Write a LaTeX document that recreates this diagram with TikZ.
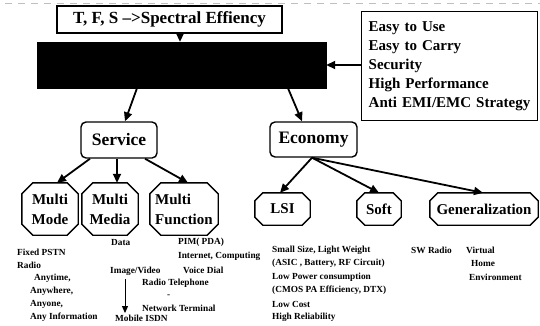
\documentclass[tikz,border=0pt]{standalone}
\usepackage{fontspec}
\setmainfont{Liberation Serif}
\usetikzlibrary{arrows.meta}
\begin{document}
\begin{tikzpicture}[x=1pt,y=-1pt,
  box/.style={draw, line width=1.4pt, inner sep=0pt},
  rbox/.style={draw, line width=1.4pt, rounded corners=5pt, inner sep=0pt, font=\fontsize{17.5}{20}\selectfont\bfseries},
  oct/.style={inner sep=0pt, align=center, font=\fontsize{15}{20}\selectfont\bfseries},
  arr/.style={line width=1.8pt, -{Triangle[length=9pt,width=8pt]}},
  thinarr/.style={line width=1pt, -{Triangle[length=7pt,width=6pt]}},
  lst/.style={anchor=west, inner sep=0pt, font=\fontsize{9.3}{10}\selectfont\bfseries},
]
\useasboundingbox (0,0) rectangle (540,325);
\draw[gray!50, line width=0.6pt, dash pattern=on 7pt off 6pt] (5,3) -- (540,3);

% top
\node[box, minimum width=225pt, minimum height=27pt, font=\fontsize{17}{20}\selectfont\bfseries] (title) at (169.5,19.5) {T, F, S -->Spectral Effiency};
\node[fill=black, draw=black, minimum width=289pt, minimum height=46pt, inner sep=0pt] (bar) at (181.5,65) {};
\node[box, anchor=north west, minimum height=109pt, text width=162pt, inner xsep=7pt, align=left,
      font=\fontsize{15}{19}\selectfont\bfseries] (req) at (361,11)
  {Easy to Use\\Easy to Carry\\Security\\High Performance\\Anti EMI/EMC Strategy};

% second level
\node[rbox, minimum width=76pt, minimum height=36pt] (svc) at (119,140) {Service};
\node[rbox, minimum width=87pt, minimum height=35pt] (eco) at (313.5,139.5) {Economy};

% third level
\node[oct, minimum width=56pt, minimum height=52pt] (mm) at (50,209) {Multi\\Mode};
\node[oct, minimum width=56pt, minimum height=52pt] (md) at (110,209) {Multi\\Media};
\node[oct, minimum width=68pt, minimum height=52pt, align=left] (mf) at (184,209) {Multi\\Function};
\node[oct, minimum width=55pt, minimum height=32pt] (lsi) at (282.5,209) {LSI};
\node[oct, minimum width=44pt, minimum height=32pt] (soft) at (379,209) {Soft};
\node[oct, minimum width=108pt, minimum height=32pt] (gen) at (484,209) {Generalization};

\foreach \n/\c in {mm/11,md/11,mf/11,lsi/8,soft/8,gen/8}
  \draw[line width=1.4pt, line join=round]
    ([xshift=\c pt]\n.north west) -- ([xshift=-\c pt]\n.north east)
    -- ([yshift=-\c pt]\n.north east) -- ([yshift=\c pt]\n.south east)
    -- ([xshift=-\c pt]\n.south east) -- ([xshift=\c pt]\n.south west)
    -- ([yshift=\c pt]\n.south west) -- ([yshift=-\c pt]\n.north west) -- cycle;

% connectors
\draw[arr] ([xshift=10.5pt]title.south) -- ([xshift=10.5pt]title.south |- bar.north);
\draw[arr] (req.west |- 0,65) -- (bar.east |- 0,65);
\draw[arr] ([xshift=-44.5pt]bar.south) -- ([xshift=6pt]svc.north);
\draw[arr] ([xshift=106.5pt]bar.south) -- ([xshift=-11.5pt]eco.north);
\draw[arr] ([xshift=-29pt]svc.south) -- ([xshift=7pt]mm.north);
\draw[arr] ([xshift=-2pt]svc.south) -- ([xshift=7pt]md.north);
\draw[arr] ([xshift=26pt]svc.south) -- ([xshift=4pt]mf.north);
\draw[arr] ([xshift=-1.5pt]eco.south) -- ([xshift=-2.5pt]lsi.north);
\draw[arr] ([xshift=-1.5pt]eco.south) -- (soft.north);
\draw[arr] ([xshift=-1.5pt]eco.south) -- ([xshift=-1pt]gen.north);

% lists
\node[lst] (l1) at (17,252) {Fixed PSTN};
\node[lst] (l2) at (17,265) {Radio};
\node[lst] (l3) at (34,278) {Anytime,};
\node[lst] (l4) at (30,291) {Anywhere,};
\node[lst] (l5) at (30,304) {Anyone,};
\node[lst] (l6) at (30,317) {Any Information};

\node[lst] (d1) at (111,242) {Data};
\node[lst] (iv) at (110,271) {Image/Video};
\node[lst] (mob) at (115,318.5) {Mobile ISDN};
\draw[thinarr, shorten <=4pt, shorten >=2pt] ([xshift=15pt]iv.south west) -- ([xshift=10pt]mob.north west);

\node[lst] (f1) at (178,242) {PIM( PDA)};
\node[lst] (f2) at (178,256) {Internet, Computing};
\node[lst] (f3) at (183,270) {Voice Dial};
\node[lst] (f4) at (142,283) {Radio Telephone};
\node[lst] (f5) at (167,296) {-};
\node[lst] (f6) at (142,308) {Network Terminal};

\node[lst] (e1) at (272,250) {Small Size, Light Weight};
\node[lst] (e2) at (272,263.5) {(ASIC , Battery, RF Circuit)};
\node[lst] (e3) at (272,277) {Low Power consumption};
\node[lst] (e4) at (272,290.5) {(CMOS PA Efficiency, DTX)};
\node[lst] (e5) at (272,304) {Low Cost};
\node[lst] (e6) at (272,317.5) {High Reliability};

\node[lst] (s1) at (411,250) {SW Radio};
\node[lst] (g1) at (466,250) {Virtual};
\node[lst] (g2) at (471,263.5) {Home};
\node[lst] (g3) at (469,277) {Environment};
\end{tikzpicture}
\end{document}
